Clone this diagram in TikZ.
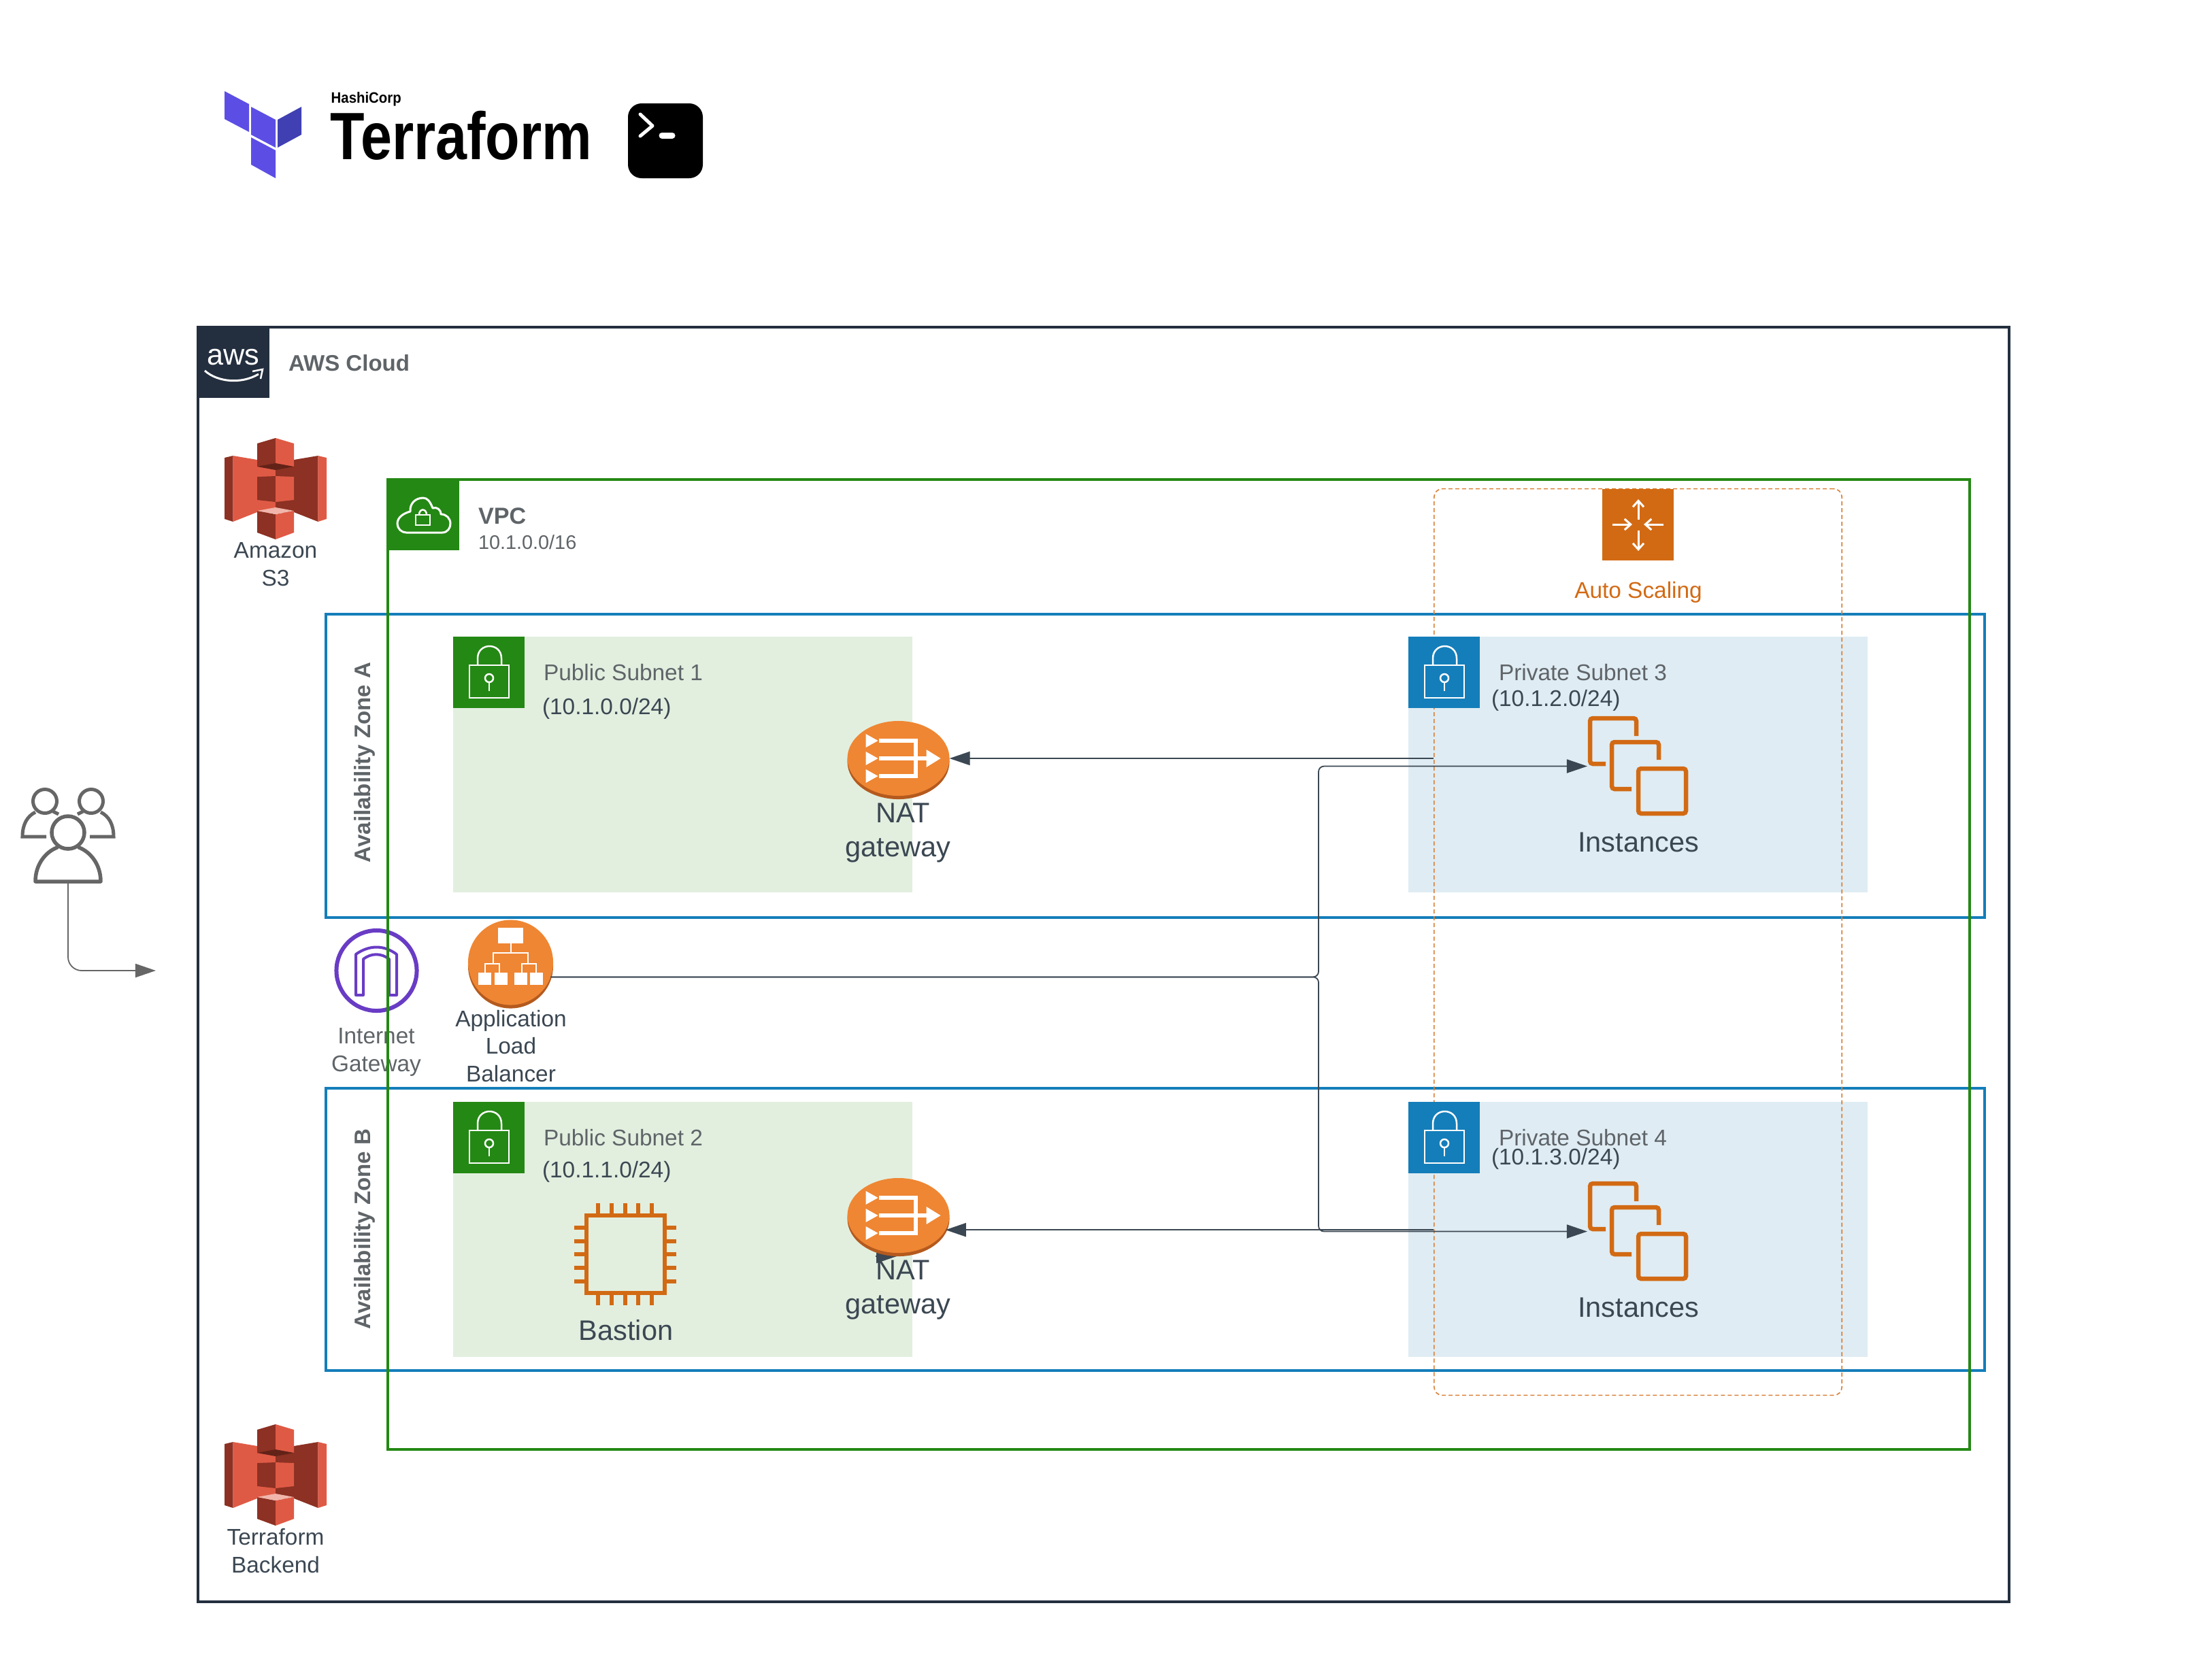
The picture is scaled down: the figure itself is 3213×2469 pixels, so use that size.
\documentclass[tikz,border=0pt]{standalone}
\usepackage{fontspec}
\setmainfont{Liberation Sans}
\usepackage{xcolor}
\usetikzlibrary{arrows.meta,calc,positioning,shapes.geometric}

\definecolor{awsnavy}{HTML}{232F3E}
\definecolor{vpcgreen}{HTML}{248814}
\definecolor{azblue}{HTML}{147EBA}
\definecolor{pubfill}{HTML}{E2EFDF}
\definecolor{privfill}{HTML}{DFECF3}
\definecolor{asgorange}{HTML}{D26A14}
\definecolor{natorange}{HTML}{EF8633}
\definecolor{natrim}{HTML}{B45A1E}
\definecolor{igwpurple}{HTML}{693CC5}
\definecolor{bucketlight}{HTML}{DF5A45}
\definecolor{bucketdark}{HTML}{8C3123}
\definecolor{inktext}{HTML}{3B4752}
\definecolor{greytext}{HTML}{5F6468}
\definecolor{tfpurple}{HTML}{5C4EE5}
\definecolor{tfdark}{HTML}{4040B2}

\begin{document}
\begin{tikzpicture}[x=0.01cm,y=-0.01cm,
  lbl/.style={inner sep=0pt, outer sep=0pt, font=\fontsize{9.5}{11.4}\selectfont, align=center, text=inktext, anchor=base},
  bigl/.style={lbl, font=\fontsize{11.8}{14.2}\selectfont},
  note/.style={lbl, text=greytext, anchor=base west},
  frame/.style={draw, line width=0.04cm, fill=none},
  wire/.style={draw=inktext, line width=0.018cm, rounded corners=0.08cm, -{Triangle[length=0.3cm,width=0.2cm]}},
  chipline/.style={draw=asgorange, line width=0.06cm},
  stackline/.style={draw=asgorange, line width=0.065cm, rounded corners=0.04cm},
  whiteline/.style={draw=white, line width=0.03cm},
  barb/.style={whiteline, -{Straight Barb[length=0.09cm,width=0.16cm]}},
  person/.style={draw=black!60, line width=0.055cm, line cap=round}]
\useasboundingbox (0,0) rectangle (3213,2469);

% Terraform logo
\fill[tfpurple] (330,134) -- (366,153) -- (366,194) -- (330,175) -- cycle;
\fill[tfpurple] (369,157) -- (405,176) -- (405,217) -- (369,198) -- cycle;
\fill[tfdark] (408,176) -- (443,157) -- (443,198) -- (408,217) -- cycle;
\fill[tfpurple] (369,202) -- (405,221) -- (405,262) -- (369,242) -- cycle;
\node (hashicorp) [inner sep=0pt, anchor=base west] at (486,151) {\fontsize{6.3}{7}\selectfont\bfseries\scalebox{0.92}[1]{HashiCorp}};
\node (terraform) [inner sep=0pt, anchor=base west] at (485,234) {\fontsize{28}{30}\selectfont\bfseries\scalebox{0.84}[1]{Terraform}};

% Terminal icon
\fill[black, rounded corners=0.2cm] (923,152) rectangle (1033,262);
\draw[white, line width=0.05cm, line cap=round, line join=round] (941,168) -- (959,185) -- (941,200);
\draw[white, line width=0.09cm, line cap=round] (973,199) -- (988,199);

% AWS Cloud frame
\draw[frame, awsnavy] (291,481) rectangle (2953,2355);
\fill[awsnavy] (289,479) rectangle (396,585);
\node (awsword) [inner sep=0pt, anchor=base, text=white, font=\fontsize{12.3}{14}\selectfont] at (343,536) {aws};
\draw[white, line width=0.03cm] (301,545) .. controls (320,562) and (355,565) .. (380,550);
\draw[white, line width=0.025cm] (371,546) -- (386,543) -- (383,557);
\node (awscloud) [note, font=\fontsize{9.4}{11}\selectfont\bfseries] at (424,545) {AWS Cloud};

% Amazon S3 and Terraform Backend buckets
\foreach \sy in {644,2094} {
 \begin{scope}[shift={(405,\sy)}]
  \fill[bucketdark] (-75,29) -- (-62.5,26) -- (-62.5,123) -- (-75,119) -- cycle;
  \fill[bucketlight] (-62.5,26) -- (-27,32) -- (-27,109) -- (-62.5,123) -- cycle;
  \fill[bucketdark] (27,32) -- (62.5,26) -- (62.5,123) -- (27,109) -- cycle;
  \fill[bucketlight] (62.5,26) -- (75,29) -- (75,119) -- (62.5,123) -- cycle;
  \fill[bucketlight] (-27,40) rectangle (0,110);
  \fill[bucketdark] (0,40) rectangle (27,110);
  \fill[bucketdark] (-27,8) -- (0,0) -- (0,40) -- (-27,42) -- cycle;
  \fill[bucketlight] (0,0) -- (27,8) -- (27,42) -- (0,40) -- cycle;
  \fill[bucketdark!70!black] (-27,42) -- (0,37) -- (27,42) -- (0,47) -- cycle;
  \fill[bucketdark] (-27,57) -- (0,56) -- (0,94) -- (-27,91) -- cycle;
  \fill[bucketlight] (0,56) -- (27,57) -- (27,91) -- (0,94) -- cycle;
  \fill[bucketdark] (-27,107) -- (0,112) -- (0,149) -- (-27,139) -- cycle;
  \fill[bucketlight] (27,107) -- (0,112) -- (0,149) -- (27,139) -- cycle;
  \fill[bucketlight!45!white] (-27,107) -- (0,102) -- (27,107) -- (0,112) -- cycle;
 \end{scope}
}
\node (s3label) [lbl] at (405,861) {Amazon\\S3};
\node (backendlabel) [lbl] at (405,2312) {Terraform\\Backend};

% Internet gateway
\draw[igwpurple, line width=0.06cm] (553.5,1427) circle (0.59cm);
\draw[igwpurple, line width=0.04cm, line join=round] (523,1463) -- (523,1403) .. controls (543,1389) and (564,1389) .. (583,1403) -- (583,1463) -- (572,1463) -- (572,1410) .. controls (560,1401) and (546,1401) .. (534,1410) -- (534,1463) -- cycle;
\node (igwlabel) [lbl, text=greytext] at (553,1575) {Internet\\Gateway};

% Availability zones
\draw[frame, azblue] (479,903) rectangle (2917,1349);
\draw[frame, azblue] (479,1600) rectangle (2917,2015);
\node (azA) [lbl, anchor=center, text=greytext, rotate=90, font=\fontsize{9.4}{11}\selectfont\bfseries] at (536,1121) {Availability Zone A};
\node (azB) [lbl, anchor=center, text=greytext, rotate=90, font=\fontsize{9.4}{11}\selectfont\bfseries] at (536,1807) {Availability Zone B};

% VPC frame
\draw[frame, vpcgreen] (570,705) rectangle (2895,2131);
\fill[vpcgreen] (568,703) rectangle (675,809);
\begin{scope}[shift={(570,705)}]
 \draw[white, line width=0.03cm, line join=round] (27,78) -- (80,78) .. controls (88,78) and (92,71) .. (92,65) .. controls (92,57) and (86,51) .. (78,51) .. controls (78,44) and (72,40) .. (66,42) .. controls (62,32) and (58,27) .. (52,27) .. controls (40,27) and (32,36) .. (33,47) .. controls (22,50) and (14,56) .. (14,65) .. controls (14,72) and (20,78) .. (27,78) -- cycle;
 \draw[white, line width=0.025cm] (41,52) rectangle (62,67);
 \draw[white, line width=0.025cm] (46,52) .. controls (46,42) and (57,42) .. (57,52);
\end{scope}
\node (vpclabel) [note, font=\fontsize{9.7}{11}\selectfont\bfseries] at (703,770) {VPC};
\node (vpccidr) [note, font=\fontsize{8.2}{10}\selectfont] at (703,807) {10.1.0.0/16};

% Subnet areas
\fill[pubfill] (666,936) rectangle (1341,1312);
\fill[pubfill] (666,1620) rectangle (1341,1995);
\fill[privfill] (2070,936) rectangle (2745,1312);
\fill[privfill] (2070,1620) rectangle (2745,1995);

% Auto scaling group
\node (asg) [draw=asgorange!85, line width=0.016cm, dash pattern=on 0.06cm off 0.04cm, rounded corners=0.12cm, minimum width=5.99cm, minimum height=13.32cm, inner sep=0pt] at (2407.5,1385) {};
\fill[asgorange] (2355,719) rectangle (2460,824);
\draw[barb] (2408,764) -- (2408,734);
\draw[barb] (2408,780) -- (2408,810);
\draw[barb] (2370,771) -- (2399,771);
\draw[barb] (2445,771) -- (2416,771);
\node (asglabel) [lbl, text=asgorange] at (2408,879) {Auto Scaling};

% Subnet badges with a lock
\foreach \bx/\by/\bc in {666/936/vpcgreen,666/1620/vpcgreen,2070/936/azblue,2070/1620/azblue} {
 \begin{scope}[shift={(\bx,\by)}]
  \fill[\bc] (0,0) rectangle (105,105);
  \draw[white, line width=0.025cm] (24,42) rectangle (82,90);
  \draw[white, line width=0.025cm] (36,42) -- (36,32) .. controls (36,8) and (71,8) .. (71,32) -- (71,42);
  \draw[white, line width=0.025cm] (53,61) circle (0.06cm);
  \draw[white, line width=0.025cm] (53,67) -- (53,80);
 \end{scope}
}

% Subnet titles
\node (pubtitleA) [note] at (799,1000) {Public Subnet 1};
\node (pubcidrA) [note, text=inktext] at (797,1050) {(10.1.0.0/24)};
\node (pubtitleB) [note] at (799,1684) {Public Subnet 2};
\node (pubcidrB) [note, text=inktext] at (797,1731) {(10.1.1.0/24)};
\node (privtitleA) [note] at (2203,1000) {Private Subnet 3};
\node (privcidrA) [note, text=inktext] at (2192,1038) {(10.1.2.0/24)};
\node (privtitleB) [note] at (2203,1684) {Private Subnet 4};
\node (privcidrB) [note, text=inktext] at (2192,1712) {(10.1.3.0/24)};

% Stray arrow head under the second NAT gateway
\coordinate (stubtail) at (1287,1847);
\coordinate (stubtip) at (1318,1847);
\draw[wire] (stubtail) -- (stubtip);

% NAT gateways
\foreach \nm/\cy in {natA/1115,natB/1787} {
 \fill[natrim] (1320.5,{\cy+5}) ellipse (0.75cm and 0.55cm);
 \node (\nm) [ellipse, fill=natorange, inner sep=0pt, outer sep=0pt, minimum width=1.5cm, minimum height=1.1cm] at (1320.5,\cy) {};
 \begin{scope}[shift={(1320.5,\cy)}]
  \draw[white, line width=0.06cm] (-29,-26) -- (25,-26) -- (25,26) -- (-29,26);
  \draw[white, line width=0.06cm] (-29,0) -- (45,0);
  \foreach \ty in {-26,0,26}
   \fill[white] (-48,{\ty-10}) -- (-30,\ty) -- (-48,{\ty+10}) -- cycle;
  \fill[white] (41,-13) -- (62,0) -- (41,13) -- cycle;
 \end{scope}
}
\node (natlabelA) [bigl] at (1320,1259) {\hspace*{4pt}NAT\\gateway};
\node (natlabelB) [bigl] at (1320,1931) {\hspace*{4pt}NAT\\gateway};

% Application load balancer
\fill[natrim] (750.5,1420) circle (0.625cm);
\node (alb) [circle, fill=natorange, inner sep=0pt, outer sep=0pt, minimum size=1.25cm] at (750.5,1415) {};
\fill[white] (732,1364) rectangle (769,1387);
\draw[white, line width=0.025cm] (751,1387) -- (751,1401);
\draw[white, line width=0.025cm] (725,1417) -- (725,1401) -- (776,1401) -- (776,1417);
\draw[white, line width=0.025cm] (713,1430) -- (713,1417) -- (734,1417) -- (734,1430);
\draw[white, line width=0.025cm] (767,1430) -- (767,1417) -- (788,1417) -- (788,1430);
\foreach \qx in {703,727,756,779}
 \fill[white] (\qx,1430) rectangle ({\qx+19},1448);
\node (alblabel) [lbl] at (751,1590) {Application\\Load\\Balancer};

% Bastion chip
\draw[chipline] (862,1787) rectangle (977,1901);
\foreach \px in {879,899,919,938,958} {
 \draw[chipline] (\px,1769) -- (\px,1784);
 \draw[chipline] (\px,1904) -- (\px,1919);
}
\foreach \py in {1805,1825,1844,1864,1884} {
 \draw[chipline] (844,\py) -- (859,\py);
 \draw[chipline] (980,\py) -- (994,\py);
}
\node (bastion) [bigl] at (920,1970) {Bastion};

% Instances
\foreach \nm/\oy in {instA/0,instB/684} {
 \node (\nm) [inner sep=0pt, outer sep=0pt, minimum width=1.47cm, minimum height=1.46cm] at (2406.5,{1126.5+\oy}) {};
 \begin{scope}[yshift={-\oy*0.01cm}]
  \draw[stackline] (2360,1123) -- (2337,1123) -- (2337,1056) -- (2405,1056) -- (2405,1082);
  \draw[stackline] (2398,1160) -- (2369,1160) -- (2369,1091) -- (2438,1091) -- (2438,1117);
  \draw[stackline] (2408,1130) rectangle (2478,1196);
 \end{scope}
}
\node (instlabelA) [bigl] at (2408,1252) {Instances};
\node (instlabelB) [bigl] at (2408,1936) {Instances};

% Connectors
\draw[wire] (natA.east -| asg.west) -- (natA.east);
\draw[wire] (natB.-17 -| asg.west) -- (natB.-17);
\coordinate (spine) at (1938,1436);
\draw[wire] (alb.-20) -| (spine |- instA.west) -- (instA.west);
\draw[wire] (alb.-20) -| (spine |- instB.west) -- (instB.west);

% Users
\node (users) [inner sep=0pt, outer sep=0pt, minimum width=1.2cm, minimum height=1.5cm] at (100,1223) {};
\draw[person] (100,1224) circle (0.24cm);
\draw[person, line join=round] (84,1246) .. controls (68,1252) and (52,1270) .. (52,1296) -- (148,1296) .. controls (148,1270) and (132,1252) .. (116,1246);
\foreach \sgn in {1,-1} {
 \begin{scope}[shift={(100,0)}, xscale=\sgn]
  \draw[person, line width=0.05cm] (-34,1178) circle (0.175cm);
  \draw[person, line width=0.05cm, line cap=butt] (-32,1230) -- (-67,1230) .. controls (-67,1212) and (-60,1200) .. (-48,1194);
  \draw[person, line width=0.05cm, line cap=butt] (-22,1193) -- (-14,1197);
 \end{scope}
}
\coordinate (userstip) at (229,1427);
\draw[draw=black!60, line width=0.018cm, rounded corners=0.2cm, -{Triangle[length=0.3cm,width=0.2cm]}] (users.south) |- (userstip);
\end{tikzpicture}
\end{document}
